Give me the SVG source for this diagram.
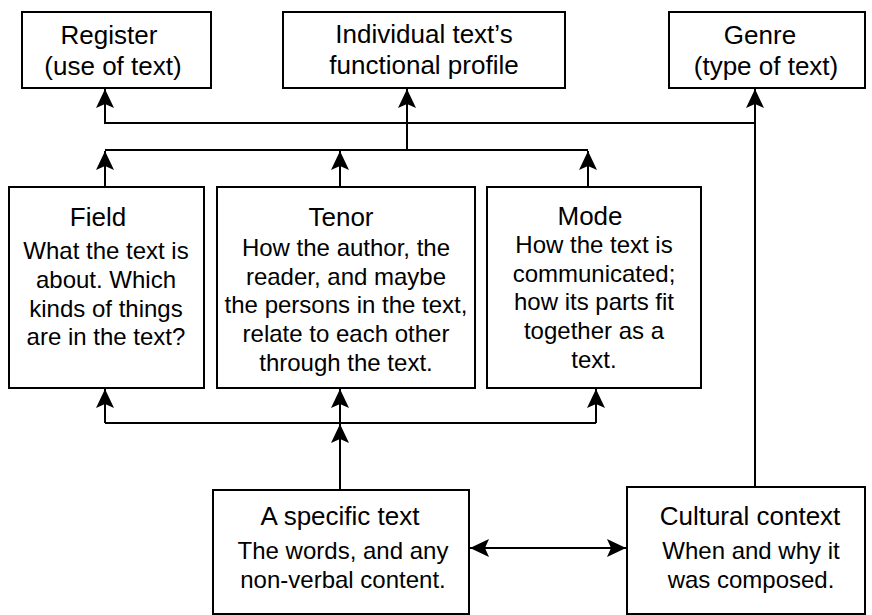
<svg xmlns="http://www.w3.org/2000/svg" width="872" height="615" viewBox="0 0 872 615">
<style>
.box{fill:#fff;stroke:#000;stroke-width:2}
.t{font-family:"Liberation Sans",Arial,sans-serif;font-size:26px;fill:#000;text-anchor:middle}
.b{font-family:"Liberation Sans",Arial,sans-serif;font-size:24px;fill:#000;text-anchor:middle}
.c{fill:none;stroke:#000;stroke-width:2}
</style>
<defs>
<marker id="ah" markerUnits="userSpaceOnUse" markerWidth="22" markerHeight="22" viewBox="-20 -11 22 22" refX="0" refY="0" orient="auto-start-reverse">
<path d="M0,0 L-19,-9 L-15,0 L-19,9 Z" fill="#000"/>
</marker>
</defs>
<rect width="872" height="615" fill="#fff"/>
<g id="connectors">
<path class="c" d="M755,487 V89" marker-end="url(#ah)"/>
<path class="c" d="M755,123 H105 V89" marker-end="url(#ah)"/>
<path class="c" d="M105,150 H588"/>
<path class="c" d="M407,150 V89" marker-end="url(#ah)"/>
<path class="c" d="M105,187 V151" marker-end="url(#ah)"/>
<path class="c" d="M340,187 V151" marker-end="url(#ah)"/>
<path class="c" d="M588,187 V151" marker-end="url(#ah)"/>
<path class="c" d="M105,423 H596"/>
<path class="c" d="M105,423 V389" marker-end="url(#ah)"/>
<path class="c" d="M340,423 V389" marker-end="url(#ah)"/>
<path class="c" d="M596,423 V389" marker-end="url(#ah)"/>
<path class="c" d="M340,490 V424" marker-end="url(#ah)"/>
<path class="c" d="M470,548 H626" marker-start="url(#ah)" marker-end="url(#ah)"/>
</g>
<g id="register">
<rect class="box" x="22" y="12" width="189" height="76"/>
<text class="t" x="109" y="44">Register</text>
<text class="t" x="113" y="75">(use of text)</text>
</g>
<g id="profile">
<rect class="box" x="283" y="12" width="282" height="76"/>
<text class="t" x="424" y="43">Individual text’s</text>
<text class="t" x="424" y="74">functional profile</text>
</g>
<g id="genre">
<rect class="box" x="669" y="12" width="196" height="76"/>
<text class="t" x="760" y="44">Genre</text>
<text class="t" x="766" y="75">(type of text)</text>
</g>
<g id="field">
<rect class="box" x="9" y="187" width="195" height="201"/>
<text class="t" x="98" y="226">Field</text>
<text class="b" x="106" y="259">What the text is</text>
<text class="b" x="106" y="288">about. Which</text>
<text class="b" x="106" y="317">kinds of things</text>
<text class="b" x="106" y="345">are in the text?</text>
</g>
<g id="tenor">
<rect class="box" x="217" y="187" width="258" height="201"/>
<text class="t" x="341" y="226">Tenor</text>
<text class="b" x="346" y="256">How the author, the</text>
<text class="b" x="346" y="285">reader, and maybe</text>
<text class="b" x="346" y="313">the persons in the text,</text>
<text class="b" x="346" y="342">relate to each other</text>
<text class="b" x="346" y="371">through the text.</text>
</g>
<g id="mode">
<rect class="box" x="487" y="187" width="214" height="201"/>
<text class="t" x="590" y="225">Mode</text>
<text class="b" x="594" y="253">How the text is</text>
<text class="b" x="594" y="282">communicated;</text>
<text class="b" x="594" y="310">how its parts fit</text>
<text class="b" x="594" y="339">together as a</text>
<text class="b" x="594" y="368">text.</text>
</g>
<g id="specific">
<rect class="box" x="213" y="490" width="256" height="124"/>
<text class="t" x="340" y="525">A specific text</text>
<text class="b" x="343" y="559">The words, and any</text>
<text class="b" x="343" y="588">non-verbal content.</text>
</g>
<g id="cultural">
<rect class="box" x="627" y="487" width="238" height="127"/>
<text class="t" x="750" y="525">Cultural context</text>
<text class="b" x="751" y="559">When and why it</text>
<text class="b" x="751" y="588">was composed.</text>
</g>
</svg>
